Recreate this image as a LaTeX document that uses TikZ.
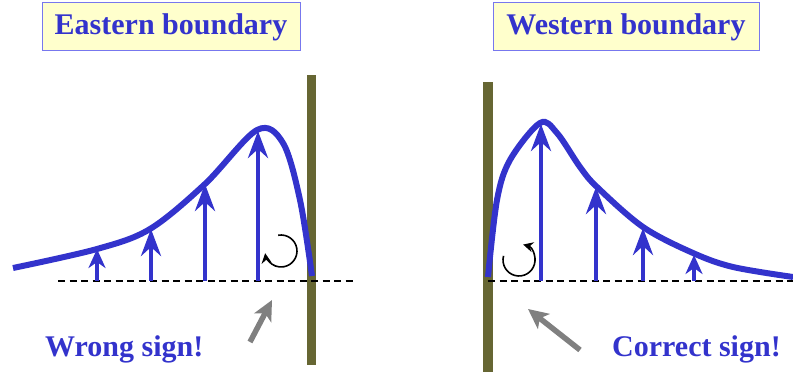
\documentclass[tikz,border=0pt]{standalone}
\usepackage{fontspec}
\setmainfont{Liberation Serif}
\usepackage{xcolor}
\usetikzlibrary{arrows.meta,positioning}
\definecolor{ink}{HTML}{3333CC}
\definecolor{paleyellow}{HTML}{FFFFCC}
\definecolor{boxline}{HTML}{7777EE}
\definecolor{wallolive}{HTML}{666633}
\tikzset{
  titlebox/.style={
    draw=boxline,
    fill=paleyellow,
    line width=1pt,
    text=ink,
    font=\fontsize{30}{36}\selectfont\bfseries,
    minimum height=48pt,
    inner sep=0pt
  },
  signlabel/.style={
    text=ink,
    font=\fontsize{30}{36}\selectfont\bfseries,
    inner sep=0pt
  },
  wall/.style={fill=wallolive, draw=none},
  profile/.style={draw=ink, line width=6pt},
  vec/.style={-{Stealth[length=27pt, width=20pt, inset=9pt]}, draw=ink, line width=4.5pt},
  shortvec/.style={-{Stealth[length=19pt, width=17pt, inset=6pt]}, draw=ink, line width=4.5pt},
  baseline/.style={line width=2pt, dash pattern=on 7pt off 4.5pt},
  spin/.style={-{Stealth[length=10pt, width=10pt]}, line width=1.6pt},
  hint/.style={-{Stealth[length=20pt, width=19pt, inset=5pt]}, draw=gray, line width=5.5pt}
}
\begin{document}
\begin{tikzpicture}[x=1pt, y=1pt]
  \useasboundingbox (0,0) rectangle (793,372);

  % eastern boundary
  \node[titlebox, minimum width=258pt] (east) at (171,345) {Eastern boundary};
  \fill[wall] (307,7) rectangle (316,297);
  \draw[baseline] (58,91) -- (353,91);
  \draw[profile] plot[smooth, tension=0.55] coordinates {
    (13,104) (97,123) (150,143) (205,188) (257,242) (283,229) (300,172) (312,96)};
  \draw[shortvec] (97,91) -- (97,123);
  \draw[vec] (151,91) -- (151,143);
  \draw[vec] (205,91) -- (205,188);
  \draw[vec] (258,91) -- (258,241);
  \draw[spin] (281,121) ++(100:16pt) arc[start angle=100, end angle=-172, radius=16pt];
  \coordinate (eastspot) at (272,72);
  \draw[hint] (250,30) -- (eastspot);
  \node[signlabel, anchor=base west] (wrong) at (45,15) {Wrong sign!};

  % western boundary
  \node[titlebox, minimum width=266pt] (west) at (626,345) {Western boundary};
  \fill[wall] (483,0) rectangle (493,290);
  \draw[baseline] (488,91) -- (793,91);
  \draw[profile] plot[smooth, tension=0.55] coordinates {
    (488,95) (497,172) (510,212) (540,249) (557,239) (580,205) (597,185)
    (643,145) (693,119) (733,105) (793,95)};
  \draw[vec] (541,91) -- (541,248);
  \draw[vec] (596,91) -- (596,185);
  \draw[vec] (643,91) -- (643,144);
  \draw[shortvec] (694,91) -- (694,117);
  \draw[spin] (519,112) ++(165:16pt) arc[start angle=165, end angle=435, radius=16pt];
  \coordinate (westspot) at (528,63);
  \draw[hint] (580,22) -- (westspot);
  \node[signlabel, anchor=base west] (correct) at (612,15) {Correct sign!};
\end{tikzpicture}
\end{document}
